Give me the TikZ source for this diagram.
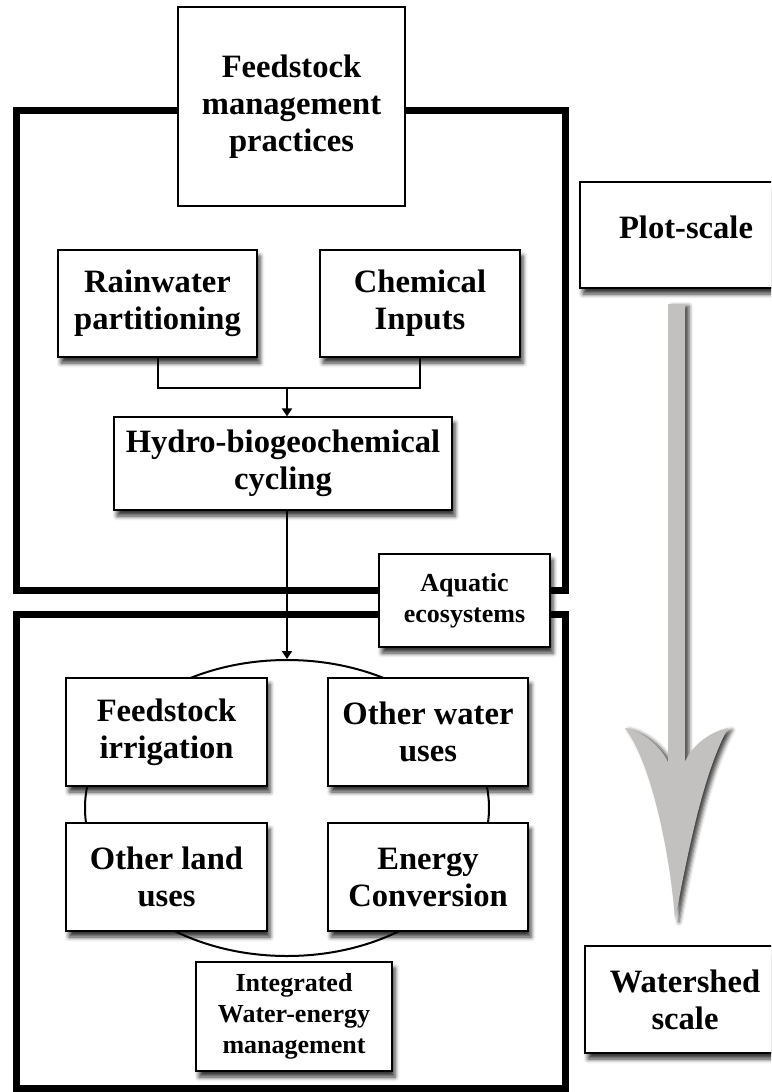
\documentclass[tikz,border=0pt]{standalone}
\usepackage{fontspec}
\setmainfont{Liberation Serif}
\usetikzlibrary{arrows.meta,shapes.geometric,shadows.blur}
\definecolor{arrowgray}{RGB}{195,192,192}
\tikzset{
  txt/.style={align=center, inner sep=0pt, font=\bfseries\fontsize{16.3}{18.5}\selectfont},
  titlebox/.style={txt, draw, line width=1.2pt, fill=white},
  box/.style={txt, draw, line width=0.6pt, fill=white,
    blur shadow={shadow xshift=1.5pt, shadow yshift=-3pt, shadow blur radius=2.2pt, shadow opacity=80}},
  smallbox/.style={box, font=\bfseries\fontsize{13}{15.5}\selectfont},
  frame/.style={line width=3.5pt},
  arr/.style={-{Triangle[length=4pt,width=5pt]}, line width=1pt},
}
\begin{document}
\begin{tikzpicture}[x=0.5pt,y=-0.5pt]
\useasboundingbox (0,0) rectangle (771,1092);
\clip (0,0) rectangle (771,1092);
\draw[frame] (16,110.5) rectangle (565,590);
\draw[frame] (16,614) rectangle (565,1088.5);
\node[titlebox, minimum width=113.5pt, minimum height=99.5pt] (feed) at (291.5,106.5) {Feedstock\\management\\practices};
\node[box, minimum width=99.5pt, minimum height=53.5pt] (rain) at (157.5,303.5) {Rainwater\\partitioning};
\node[box, minimum width=100pt, minimum height=53.5pt] (chem) at (420,303.5) {Chemical\\Inputs};
\node[box, minimum width=169pt, minimum height=46.5pt] (hydro) at (283,463.5) {Hydro-biogeochemical\\cycling};
\node[smallbox, minimum width=85.5pt, minimum height=46.5pt] (aqua) at (464.5,600.5) {Aquatic\\ecosystems};
\node[ellipse, draw, line width=1pt, minimum width=202pt, minimum height=148pt, inner sep=0pt] (cyc) at (287,808) {};
\node[box, minimum width=100.5pt, minimum height=54pt] (irri) at (166.5,732) {Feedstock\\irrigation};
\node[box, minimum width=100pt, minimum height=54pt] (water) at (428,732) {Other water\\uses};
\node[box, minimum width=100.5pt, minimum height=54pt] (land) at (166.5,877) {Other land\\uses};
\node[box, minimum width=100pt, minimum height=54pt] (energy) at (428,877) {Energy\\Conversion};
\node[smallbox, minimum width=98pt, minimum height=54.5pt] (integ) at (294,1016.5) {Integrated\\Water-energy\\management};
\node[box, minimum width=106pt, minimum height=53pt, text depth=8pt] (plot) at (686,235) {Plot-scale};
\node[box, minimum width=100pt, minimum height=53.5pt] (shed) at (685,999.5) {Watershed\\scale};
\coordinate (join) at (287,388);
\draw[line width=1pt] (rain.south) |- (join) -| (chem.south);
\draw[arr] (join) -- (join |- hydro.north);
\draw[arr] (hydro.south -| cyc.north) -- (cyc.north);
\fill[arrowgray, blur shadow={shadow xshift=2pt, shadow yshift=-1pt, shadow blur radius=2pt, shadow opacity=75}]
  (668,304) -- (668,762) .. controls (660,745) and (640,730) .. (625,728)
  .. controls (650,760) and (670,850) .. (675,920)
  .. controls (690,840) and (705,770) .. (728,728)
  .. controls (710,732) and (692,745) .. (685,762) -- (685,304) -- cycle;
\end{tikzpicture}
\end{document}
